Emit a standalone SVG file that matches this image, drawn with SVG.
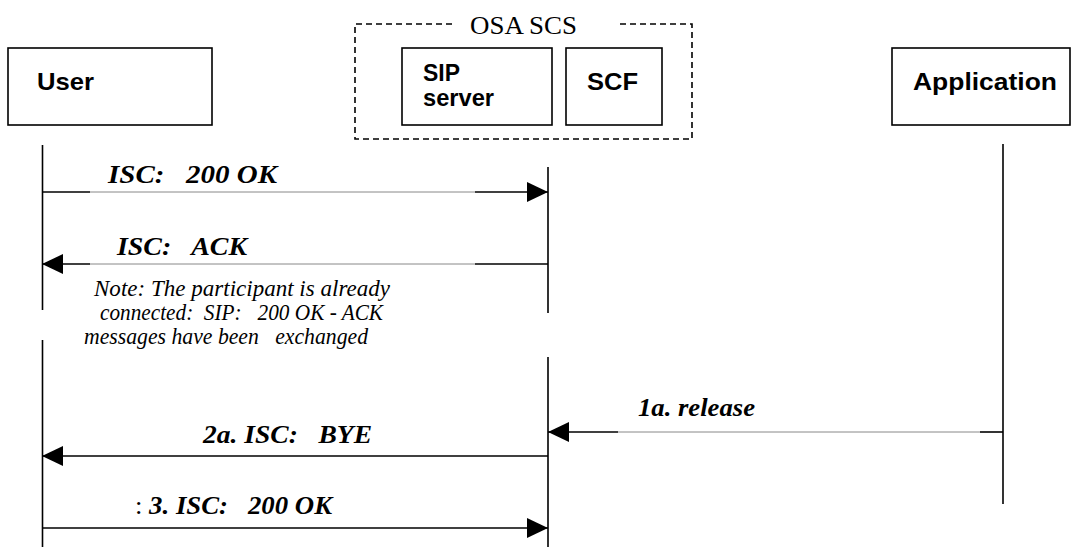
<svg xmlns="http://www.w3.org/2000/svg" width="1071" height="547" viewBox="0 0 1071 547">
<style>
.box{fill:#fff;stroke:#000;stroke-width:1.6}
.nl{font-family:"Liberation Sans",Arial,sans-serif;font-weight:bold;font-size:24px;fill:#000}
.ll{stroke:#000;stroke-width:1.6;fill:none}
.dk{stroke:#000;stroke-width:1.6;fill:none}
.gr{stroke:#888;stroke-width:1;fill:none}
.lbl{font-family:"Liberation Serif","Times New Roman",serif;font-weight:bold;font-style:italic;font-size:25px;fill:#000;white-space:pre}
.note{font-family:"Liberation Serif","Times New Roman",serif;font-style:italic;font-size:23px;fill:#000;white-space:pre}
.osa{font-family:"Liberation Serif","Times New Roman",serif;font-size:26px;fill:#000}
.dash{stroke:#000;stroke-width:1.6;fill:none;stroke-dasharray:6 4}
</style>
<defs>
<marker id="ah" markerWidth="21" markerHeight="20" refX="21" refY="10" orient="auto" markerUnits="userSpaceOnUse">
<path d="M0,0 L21,10 L0,20 Z" fill="#000"/>
</marker>
</defs>
<g id="osa-scs">
<path class="dash" d="M452,24 L355,24 L355,139 L692,139 L692,24 L620,24"/>
<text class="osa" x="470" y="34" textLength="107" lengthAdjust="spacingAndGlyphs">OSA SCS</text>
</g>
<g id="user">
<rect class="box" x="8" y="48" width="204" height="77"/>
<text class="nl" x="37" y="90" textLength="57" lengthAdjust="spacingAndGlyphs">User</text>
</g>
<g id="sip-server">
<rect class="box" x="402" y="48" width="150" height="77"/>
<text class="nl" x="423" y="81" textLength="37" lengthAdjust="spacingAndGlyphs">SIP</text>
<text class="nl" x="423" y="106" textLength="71" lengthAdjust="spacingAndGlyphs">server</text>
</g>
<g id="scf">
<rect class="box" x="566" y="48" width="96" height="77"/>
<text class="nl" x="587" y="90" textLength="51" lengthAdjust="spacingAndGlyphs">SCF</text>
</g>
<g id="application">
<rect class="box" x="892" y="48" width="178" height="77"/>
<text class="nl" x="913" y="90" textLength="144" lengthAdjust="spacingAndGlyphs">Application</text>
</g>
<g id="lifelines">
<path class="ll" d="M42.5,145 V310 M42.5,340 V547"/>
<path class="ll" d="M548,167 V313 M548,357 V547"/>
<path class="ll" d="M1003,144 V504"/>
</g>
<g id="connectors">
<path class="dk" d="M42,192 H90"/>
<path class="gr" d="M90,192 H475"/>
<path class="dk" d="M475,192 H548" marker-end="url(#ah)"/>
<path class="dk" d="M548,264 H475"/>
<path class="gr" d="M475,264 H90"/>
<path class="dk" d="M90,264 H42" marker-end="url(#ah)"/>
<path class="dk" d="M1003,432 H980"/>
<path class="gr" d="M980,432 H618"/>
<path class="dk" d="M618,432 H548" marker-end="url(#ah)"/>
<path class="dk" d="M548,456 H42" marker-end="url(#ah)"/>
<path class="dk" d="M42,528 H548" marker-end="url(#ah)"/>
</g>
<g id="labels">
<text class="lbl" x="108" y="183" textLength="169" lengthAdjust="spacingAndGlyphs">ISC:   200 OK</text>
<text class="lbl" x="117" y="255" textLength="130" lengthAdjust="spacingAndGlyphs">ISC:   ACK</text>
<text class="note" x="94" y="296" textLength="296" lengthAdjust="spacingAndGlyphs">Note: The participant is already</text>
<text class="note" x="100" y="320" textLength="283" lengthAdjust="spacingAndGlyphs">connected:  SIP:   200 OK - ACK</text>
<text class="note" x="84" y="344" textLength="284" lengthAdjust="spacingAndGlyphs">messages have been   exchanged</text>
<text class="lbl" x="638" y="416" textLength="117" lengthAdjust="spacingAndGlyphs">1a. release</text>
<text class="lbl" x="203" y="443" textLength="169" lengthAdjust="spacingAndGlyphs">2a. ISC:   BYE</text>
<text class="lbl" x="135" y="514" textLength="197" lengthAdjust="spacingAndGlyphs"><tspan font-weight="normal" font-style="normal">: </tspan>3. ISC:   200 OK</text>
</g>
</svg>
